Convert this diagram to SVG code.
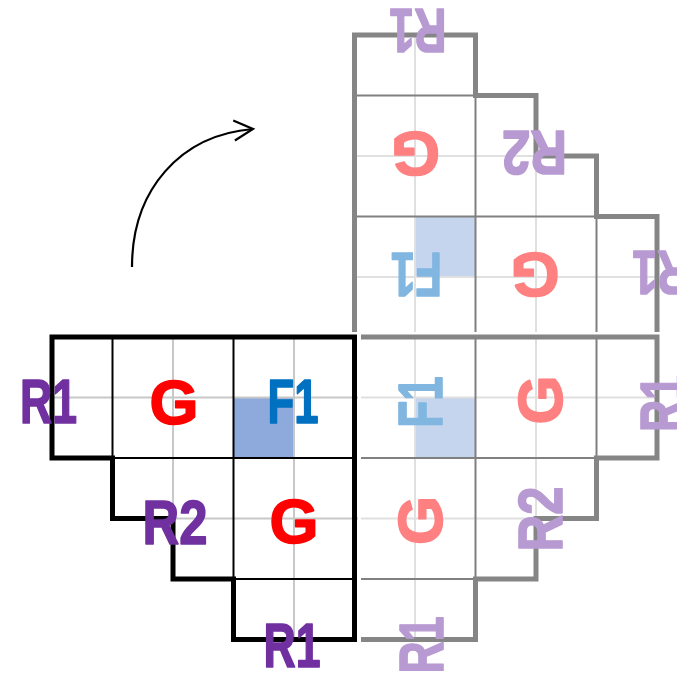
<svg xmlns="http://www.w3.org/2000/svg" width="677" height="675" viewBox="0 0 677 675">
<defs>
<style>
.bg{fill:#ffffff}
.lt{stroke:#c8c8c8;stroke-width:2;fill:none}
.lt2{stroke:#e0e0e0;stroke-width:2;fill:none}
.thk{stroke:#000;stroke-width:2;fill:none}
.thg{stroke:#808080;stroke-width:2;fill:none}
.obk{stroke:#000;stroke-width:5;fill:none;stroke-linejoin:miter}
.ogr{stroke:#858585;stroke-width:5;fill:none;stroke-linejoin:miter}
text{font-family:"Liberation Sans",Arial,sans-serif;font-weight:bold;font-size:63px;text-anchor:middle;stroke-width:1.6;stroke-linejoin:round}
.r{fill:#7030A0;stroke:#7030A0}.g{fill:#FF0000;stroke:#FF0000}.f{fill:#0070C0;stroke:#0070C0}
.rf{fill:#B89AD2;stroke:#B89AD2}.gf{fill:#FF8080;stroke:#FF8080}.ff{fill:#80B6E0;stroke:#80B6E0}
.hl{fill:#8EA9DB}.hlf{fill:#C6D5EE}
</style>
<marker id="open" markerUnits="userSpaceOnUse" viewBox="-22 -12 24 24" refX="0" refY="0" markerWidth="24" markerHeight="24" orient="auto" overflow="visible">
<path d="M-19,-10 L0,0 L-19,10" fill="none" stroke="#000" stroke-width="2.2"/>
</marker>
</defs>
<rect class="bg" x="0" y="0" width="677" height="675"/>

<g id="grid-original">
<rect class="hl" x="233.5" y="397.5" width="60.5" height="60.5"/>
<path class="lt" d="M173,337V579M294,337V639.5M48,397.5H358M112.5,518.5H358"/>
<path class="thk" d="M112.5,337V458M233.5,337V579M112.5,458H354.5M233.5,579H354.5"/>
<polygon class="obk" points="52,337 354.5,337 354.5,639.5 233.5,639.5 233.5,579 173,579 173,518.5 112.5,518.5 112.5,458 52,458"/>
<text class="r" x="48.5" y="423" textLength="57" lengthAdjust="spacingAndGlyphs">R1</text>
<text class="g" x="174" y="424">G</text>
<text class="f" x="293" y="423" textLength="51" lengthAdjust="spacingAndGlyphs">F1</text>
<text class="r" x="175" y="544" textLength="65" lengthAdjust="spacingAndGlyphs">R2</text>
<text class="g" x="294" y="543">G</text>
<text class="r" x="292" y="667" textLength="57" lengthAdjust="spacingAndGlyphs">R1</text>
</g>

<g id="grid-rot180">
<rect class="hlf" x="415" y="216.5" width="60.5" height="60.5"/>
<path class="lt2" d="M415,35V332M536,156V332M354.5,156H536M354.5,277H657"/>
<path class="thg" d="M354.5,95.5H475.5M354.5,216.5H596.5M475.5,95.5V332M596.5,216.5V332"/>
<polyline class="ogr" points="354.5,332 354.5,35 475.5,35 475.5,95.5 536,95.5 536,156 596.5,156 596.5,216.5 657,216.5 657,332"/>
<text class="rf" x="418" y="54.5" transform="rotate(180 418 31.5)" textLength="57" lengthAdjust="spacingAndGlyphs">R1</text>
<text class="gf" x="415.5" y="177" transform="rotate(180 415.5 154.5)">G</text>
<text class="rf" x="534.5" y="177" transform="rotate(180 534.5 154)" textLength="65" lengthAdjust="spacingAndGlyphs">R2</text>
<text class="ff" x="416.5" y="298.5" transform="rotate(180 416.5 275.5)" textLength="51" lengthAdjust="spacingAndGlyphs">F1</text>
<text class="gf" x="535" y="298" transform="rotate(180 535 275.5)">G</text>
<text class="rf" x="661" y="297" transform="rotate(180 661 274)" textLength="57" lengthAdjust="spacingAndGlyphs">R1</text>
</g>

<g id="grid-rot90">
<rect class="hlf" x="415" y="397.5" width="60.5" height="60.5"/>
<path class="lt2" d="M415,337V639.5M536,337V518.5M361,397.5H657M361,518.5H536"/>
<path class="thg" d="M475.5,337V579M596.5,337V458M361,458H596.5M361,579H475.5"/>
<polyline class="ogr" points="361,337 657,337 657,458 596.5,458 596.5,518.5 536,518.5 536,579 475.5,579 475.5,639.5 361,639.5"/>
<text class="ff" x="418.5" y="425" transform="rotate(-90 418.5 402)" textLength="51" lengthAdjust="spacingAndGlyphs">F1</text>
<text class="gf" x="539" y="423" transform="rotate(-90 539 400)">G</text>
<text class="rf" x="661" y="426.5" transform="rotate(-90 661 403.5)" textLength="57" lengthAdjust="spacingAndGlyphs">R1</text>
<text class="gf" x="418.5" y="543.5" transform="rotate(-90 418.5 520.5)">G</text>
<text class="rf" x="539" y="542" transform="rotate(-90 539 519)" textLength="65" lengthAdjust="spacingAndGlyphs">R2</text>
<text class="rf" x="420" y="668" transform="rotate(-90 420 645)" textLength="57" lengthAdjust="spacingAndGlyphs">R1</text>
</g>

<g id="connectors">
<path d="M132,267 C132,190 180,135 253,129" fill="none" stroke="#000" stroke-width="2.2" marker-end="url(#open)"/>
</g>
</svg>
